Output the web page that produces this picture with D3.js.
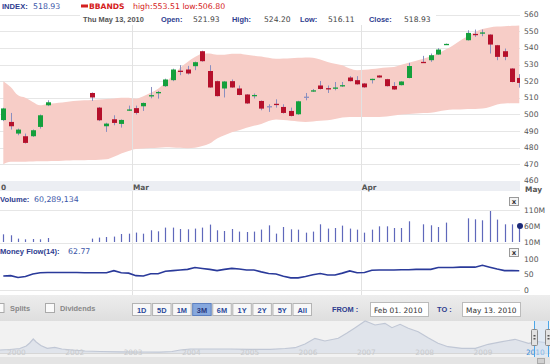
<!DOCTYPE html>
<html><head><meta charset="utf-8">
<script src="https://cdn.jsdelivr.net/npm/d3@7"></script>
<style>
html,body{margin:0;padding:0;background:#fff;overflow:hidden}
svg{display:block;font-family:"DejaVu Sans",Verdana,sans-serif}
.lb{font-family:"Liberation Sans",Arial,sans-serif;font-weight:bold}
</style></head><body>
<svg id="c" width="550" height="364"></svg>
<script>
// ---------- DATA ----------
const opens  = [496.6,495.5,488.5,486.9,486.9,492.5,505.5,null,null,null,null,null,512.9,504.1,492.9,497.1,494.3,502.7,503.8,504.9,511.2,512.7,517,520.6,526.3,527,529,538,526.1,520,515.6,520,515.6,512,511.3,508.1,505,506.4,504.5,502.1,500.1,510.7,514.1,517.4,515.8,515.8,517.2,522.2,520.6,518.6,521.1,523.4,521.2,517.1,517.6,521.9,null,531.6,532.6,536,542,null,null,544.6,548.4,549.1,548,541.6,538,527.6,521.93];
const highs  = [504,500.9,491.5,488.5,491,500,508.5,null,null,null,null,null,513.2,504.5,495,499.5,497,505.3,505.3,507.2,516.5,514.1,521.5,527.5,529.6,529.2,531.8,538.3,529.6,520.3,520.1,521,517.4,512.2,512.6,508.4,506.1,509.1,506.1,504.1,508.2,512.9,515.3,520.1,517.4,519.5,519.5,523,523,518.9,521.5,523.6,521.4,519.4,520,531,null,535.2,536.6,539.8,542.6,null,null,550.6,551,551,548.2,541.8,539.6,527.8,524.2];
const lows   = [496,490.9,487.5,482.5,486.5,491.5,505,null,null,null,null,null,508.1,496,489.5,493.5,492.1,502.1,500,502.1,509.7,509.5,516.5,520,523.6,524,526.6,531.7,516,510.8,510.2,516,511.5,506.3,509.6,502.5,501.5,504.1,500.5,498.8,499.8,508.5,513.5,515,512.9,514.5,516.5,519.8,517.9,516,518.6,522,516.8,514.8,517.4,521.7,null,531,531.6,535.8,541.8,null,null,544.4,546.6,547,536.6,532.6,532.6,519.3,516.11];
const closes = [503.6,492.9,490.9,482.9,490.5,499.5,507.3,null,null,null,null,null,510.2,496.5,494.5,494.9,496.7,503,500.9,506.9,511.6,513.5,521,527,525.7,524.6,531.4,532,516.2,511,519.8,516.2,511.7,506.6,511.7,503.5,505,505.8,500.9,499.1,507.9,510.7,514.5,515.3,515.4,516.2,517.6,520,518.1,516.3,521.4,522.2,517,515,519.8,529.1,null,531.2,535.6,539,542.4,null,null,549,548,549.3,542,534.6,534.6,519.5,518.93];
// volume, millions
const volumes = [34,31,20.6,18.4,19.4,18.4,22.5,null,null,null,null,null,20.6,23.8,25.6,26.9,35,36,39.4,36,46.6,43.4,55,55,50.6,49.7,51.9,55,64.4,46.6,44.4,50.6,42.5,41.3,42.5,48.8,62,36.2,56.9,49.7,48.6,39.2,42.5,65.3,51.9,53.8,61.2,51.9,48.6,39.2,48.6,59,59,53.8,53.8,74.7,null,65.3,62.2,56.9,70.6,null,null,84,80.9,77.8,106.9,80,65.3,65.3,60.289134];
const upperBand = [520,516.5,511.5,510,507.5,505.5,506.3,506.8,507.2,507.8,508.2,508.5,508.7,509,509.3,509.6,510,510,509.5,511,513,515.5,519,523.5,528,531.5,534.5,536.5,536.6,535.8,535.8,536.4,536.4,535.8,535.3,534.8,534,533.4,533.6,533.8,534,534.2,534,533,531.5,530.5,529.6,527.6,526.6,526.8,527.3,527.8,528.2,528.5,529.8,531,532.2,533.5,535,536.8,539,541.5,544.5,547,549.5,551.3,552.3,552.8,553,553.3,553.51];
const lowerBand = [470,471.5,471.5,471.6,471.7,471.8,471.9,472,472.2,472.3,472.4,472.5,472.6,472.8,473,474.5,476.5,478,479.3,479.5,479.8,480,480.3,480.2,480,479.7,480,481,482.5,485.5,487.5,489.3,490.5,492,493.2,494.3,496,497,496.6,496.2,495.8,495.5,495.8,496.2,496.5,497.3,498.2,498.5,498.5,498.5,498.5,498.5,498.8,499.3,500,500.3,500.5,500.8,501,501.8,502.5,503,503,503.2,503.3,503.5,504.5,506,506.5,506.7,506.8];
const moneyFlow = [46,47,41,44,52,56,57,57,57,57,57,56,56,56,56,63,56,55,47,46,53,53,61,63,65,67,73,70,67,63,67,70,68,65,65,59,54,52,45,40,40,44,50,54,49,49,55,62,56,57,64,65,65,65,66,66,67,67,67,73,73,73,74,74,74,80,74,68,63,63,62.77];
const priceTicks = [460,470,480,490,500,510,520,530,540,550,560];
const volumeTicks = [10,60,110];
const flowTicks = [0,50,100];
const monthLabels = ["0","Mar","Apr","May"];
const monthPos = [-0.45,17.46,48.5,70.65];
const rangeButtons = ["1D","5D","1M","3M","6M","1Y","2Y","5Y","All"];
const navYears  = [2000.88,2001.05,2001.22,2001.33,2001.39,2001.45,2001.50,2001.58,2001.69,2001.82,2001.94,2002.12,2002.34,2002.60,2002.94,2003.28,2003.62,2003.83,2003.97,2004.14,2004.48,2004.83,2005.17,2005.51,2005.77,2005.94,2006.11,2006.28,2006.45,2006.68,2006.83,2006.97,2007.14,2007.31,2007.48,2007.60,2007.74,2007.88,2008.05,2008.22,2008.39,2008.56,2008.80,2009.03,2009.25,2009.49,2009.71,2009.94,2010.11,2010.31];
const navValues = [150,175,225,350,500,700,550,375,235,285,200,150,100,75,60,50,40,75,150,200,200,200,185,185,225,265,450,735,600,735,1000,1265,1600,1400,1485,1265,1435,1235,1065,765,485,315,235,235,435,565,685,485,565,485];
const navLabels = ["2000","2002","2003","2004","2005","2006","2007","2008","2009","2010"];
const navLabelYears = [2001,2002,2003,2004,2005,2006,2007,2008,2009,2010];

// ---------- SETUP ----------
const svg = d3.select("#c");
const W = 550, PR = 520;
const navy = "#2e3d8f", blueVal = "#3a55a8";
const GREEN = "#14a03c", RED = "#b5102b", WICK = "#8a8fc0";
const idx = d3.range(opens.length);
const x = d3.scaleLinear().domain([-0.448, 70.1]).range([0, PR]);
const y = d3.scaleLinear().domain([460, 560]).range([181, 14.6]);
const yv = d3.scaleLinear().domain([10, 110]).range([242, 210]);
const yf = d3.scaleLinear().domain([0, 100]).range([290.4, 259]);

const defs = svg.append("defs");
defs.append("clipPath").attr("id","cpMain").append("rect").attr("x",0).attr("y",14).attr("width",PR).attr("height",167);
defs.append("clipPath").attr("id","cpAll").append("rect").attr("x",0).attr("y",0).attr("width",PR).attr("height",295);

// ---------- MAIN PRICE PANEL ----------
const grid = svg.append("g");
grid.selectAll("line.h").data(priceTicks).join("line")
  .attr("x1",0).attr("x2",PR).attr("y1",d=>Math.round(y(d))+0.5).attr("y2",d=>Math.round(y(d))+0.5)
  .attr("stroke","#e6e6e6");

const main = svg.append("g").attr("clip-path","url(#cpMain)");
const bandData = idx.map(i=>({i,u:upperBand[i],l:lowerBand[i]}));
main.append("path").datum(bandData)
  .attr("d", d3.area().curve(d3.curveMonotoneX).x(d=>x(d.i)).y0(d=>y(d.l)).y1(d=>y(d.u)))
  .attr("fill","#f7cdc7");

// vertical month lines (whole height)
svg.append("g").attr("clip-path","url(#cpAll)").selectAll("line").data(monthPos.slice(1,3)).join("line")
  .attr("x1",d=>Math.round(x(d))+0.5).attr("x2",d=>Math.round(x(d))+0.5)
  .attr("y1",14).attr("y2",295).attr("stroke","#e2e2e2");

const candles = idx.filter(i=>opens[i]!=null).map(i=>({i,o:opens[i],h:highs[i],l:lows[i],c:closes[i]}));
const cg = main.append("g");
cg.selectAll("line").data(candles).join("line")
  .attr("x1",d=>Math.round(x(d.i))+0.5).attr("x2",d=>Math.round(x(d.i))+0.5)
  .attr("y1",d=>y(d.h)).attr("y2",d=>y(d.l)).attr("stroke",WICK).attr("stroke-width",1);
cg.selectAll("rect").data(candles).join("rect")
  .attr("x",d=>Math.round(x(d.i))-2).attr("width",5)
  .attr("y",d=>y(Math.max(d.o,d.c)))
  .attr("height",d=>Math.max(1.3, Math.abs(y(d.o)-y(d.c))))
  .attr("fill",d=>d.c>d.o?GREEN:(d.c<d.o?RED:WICK));

// white box behind OHLC row
svg.append("rect").attr("x",80).attr("y",11).attr("width",356).attr("height",14).attr("fill","#fff");

// price axis labels
svg.append("g").selectAll("text").data(priceTicks).join("text")
  .attr("x",524).attr("y",d=>y(d)+(d===460?1.6:2.6)).attr("font-size",7.6).attr("fill","#555").text(d=>d);

// x axis band
svg.append("rect").attr("x",0).attr("y",181).attr("width",PR).attr("height",10).attr("fill","#eceef3");
svg.append("g").selectAll("text").data(monthLabels).join("text")
  .attr("x",(d,k)=>Math.max(0.5,x(monthPos[k])+1)).attr("y",(d,k)=>k===3?191.6:190)
  .attr("font-size",7.4).attr("font-weight","bold").attr("fill","#555").text(d=>d);

// header row 1
const h1 = svg.append("g");
h1.append("text").attr("class","lb").attr("x",2).attr("y",9).attr("font-size",7.6).attr("fill",navy).text("INDEX:");
h1.append("text").attr("x",33).attr("y",9).attr("font-size",7.8).attr("fill",blueVal).text(closes[70].toFixed(2));
h1.append("rect").attr("x",81).attr("y",4.5).attr("width",7).attr("height",3).attr("fill","#d42020");
h1.append("text").attr("x",89).attr("y",9).attr("font-size",7.6).attr("font-weight","bold").attr("fill","#d42020").text("BBANDS");
h1.append("text").attr("x",133).attr("y",9).attr("font-size",7.8).attr("fill","#d42020")
  .text("high:"+upperBand[70].toFixed(2)+" low:"+lowerBand[70].toFixed(2));
// header row 2
const row2 = [["Thu May 13, 2010",83,"#555",true],["Open:",161,navy,true],[opens[70].toFixed(2),193,"#444",false],
  ["High:",232,navy,true],[highs[70].toFixed(2),264,"#444",false],["Low:",300,navy,true],[lows[70].toFixed(2),328,"#444",false],
  ["Close:",369,navy,true],[closes[70].toFixed(2),404,"#444",false]];
svg.append("g").selectAll("text").data(row2).join("text").attr("x",d=>d[1]).attr("y",22)
  .attr("class",d=>d[3]?"lb":null).attr("font-size",d=>d[3]?7.4:7.6)
  .attr("fill",d=>d[2]).text(d=>d[0]);

// ---------- VOLUME PANEL ----------
svg.append("line").attr("x1",0).attr("x2",PR).attr("y1",210.5).attr("y2",210.5).attr("stroke","#e6e6e6");
svg.append("line").attr("x1",0).attr("x2",PR).attr("y1",243.5).attr("y2",243.5).attr("stroke","#e6e6e6");
const vol = idx.filter(i=>volumes[i]!=null).map(i=>({i,v:volumes[i]}));
svg.append("g").selectAll("line").data(vol).join("line")
  .attr("x1",d=>Math.round(x(d.i))+0.5).attr("x2",d=>Math.round(x(d.i))+0.5)
  .attr("y1",yv(10)).attr("y2",d=>yv(d.v)).attr("stroke","#5f68bb").attr("stroke-width",1.2);
svg.append("circle").attr("cx",PR).attr("cy",yv(volumes[70])).attr("r",3).attr("fill","#1c2a78");
svg.append("g").selectAll("text").data(volumeTicks).join("text")
  .attr("x",524).attr("y",d=>yv(d)+2.6).attr("font-size",7.6).attr("fill","#555").text(d=>d+"M");
svg.append("text").attr("class","lb").attr("x",0).attr("y",202).attr("font-size",7.6).attr("fill",navy).text("Volume:");
svg.append("text").attr("x",34).attr("y",202).attr("font-size",7.8).attr("fill",blueVal).text(d3.format(",")(Math.round(volumes[70]*1e6)));

// ---------- MONEY FLOW PANEL ----------
svg.append("line").attr("x1",0).attr("x2",PR).attr("y1",290.5).attr("y2",290.5).attr("stroke","#e6e6e6");
svg.append("path").datum(idx).attr("clip-path","url(#cpAll)")
  .attr("d",d3.line().x(i=>x(i)).y(i=>yf(moneyFlow[i])))
  .attr("fill","none").attr("stroke","#2a3a9a").attr("stroke-width",1.6);
svg.append("g").selectAll("text").data(flowTicks).join("text")
  .attr("x",524).attr("y",d=>yf(d)+2.6).attr("font-size",7.6).attr("fill","#555").text(d=>d);
svg.append("text").attr("class","lb").attr("x",0).attr("y",254).attr("font-size",7.6).attr("fill",navy).text("Money Flow(14):");
svg.append("text").attr("x",68).attr("y",254).attr("font-size",7.8).attr("fill",blueVal).text(moneyFlow[70]);

// close boxes
[197,248].forEach(yy=>{
  const g = svg.append("g");
  g.append("rect").attr("x",509.5).attr("y",yy+0.5).attr("width",9).attr("height",8).attr("fill","#f4f4f4").attr("stroke","#999");
  g.append("text").attr("x",514).attr("y",yy+7).attr("text-anchor","middle").attr("font-size",7).attr("font-weight","bold").attr("fill","#333").text("x");
});

// ---------- CONTROLS ----------
const gradC = defs.append("linearGradient").attr("id","gc").attr("x1",0).attr("x2",0).attr("y1",0).attr("y2",1);
gradC.append("stop").attr("offset",0).attr("stop-color","#ededed");
gradC.append("stop").attr("offset",1).attr("stop-color","#dedede");
svg.append("rect").attr("x",0).attr("y",295).attr("width",W).attr("height",26).attr("fill","url(#gc)");
svg.append("rect").attr("x",-5).attr("y",303.5).attr("width",9).attr("height",9).attr("fill","#fafafa").attr("stroke","#aaa");
svg.append("rect").attr("x",45.5).attr("y",303.5).attr("width",9).attr("height",9).attr("fill","#fafafa").attr("stroke","#aaa");
svg.append("text").attr("class","lb").attr("x",10).attr("y",311).attr("font-size",7.4).attr("fill","#888").text("Splits");
svg.append("text").attr("class","lb").attr("x",60).attr("y",311).attr("font-size",7.4).attr("fill","#888").text("Dividends");

const bx = d3.scaleBand().domain(rangeButtons).range([132,311]).paddingInner(0.08);
const bg = svg.append("g").selectAll("g").data(rangeButtons).join("g");
bg.append("rect").attr("x",d=>bx(d)+0.5).attr("y",303.5).attr("width",bx.bandwidth()).attr("height",12)
  .attr("fill",d=>d==="3M"?"#86a8de":"#f8f8f8").attr("stroke",d=>d==="3M"?"#5d80c0":"#b4b4b4");
bg.append("text").attr("class","lb").attr("x",d=>bx(d)+bx.bandwidth()/2+0.5).attr("y",312.5).attr("text-anchor","middle")
  .attr("font-size",7.4).attr("fill",d=>d==="3M"?"#2a3a80":"#2b4a9b").text(d=>d);

svg.append("text").attr("class","lb").attr("x",332).attr("y",312).attr("font-size",7.4).attr("fill",navy).text("FROM :");
svg.append("rect").attr("x",370.5).attr("y",302.5).attr("width",58).attr("height",14).attr("fill","#fff").attr("stroke","#bbb");
svg.append("text").attr("x",374).attr("y",312.5).attr("font-size",7.4).attr("fill","#333").text("Feb 01. 2010");
svg.append("text").attr("class","lb").attr("x",437).attr("y",312).attr("font-size",7.4).attr("fill",navy).text("TO :");
svg.append("rect").attr("x",462.5).attr("y",302.5).attr("width",58).attr("height",14).attr("fill","#fff").attr("stroke","#bbb");
svg.append("text").attr("x",466).attr("y",312.5).attr("font-size",7.4).attr("fill","#333").text("May 13. 2010");

// ---------- NAVIGATOR ----------
svg.append("rect").attr("x",0).attr("y",321).attr("width",W).attr("height",37).attr("fill","#f2f2f2");
const nx = d3.scaleLinear().domain([2000.88, 2010.31]).range([0, W]);
const ny = d3.scaleLinear().domain([0, 1750]).range([353, 318]);
svg.append("path").datum(navYears.map((t,k)=>[t,navValues[k]]))
  .attr("d",d3.area().x(d=>nx(d[0])).y0(353).y1(d=>ny(d[1])))
  .attr("fill","#e0e4eb");
svg.append("path").datum(navYears.map((t,k)=>[t,navValues[k]]))
  .attr("d",d3.line().x(d=>nx(d[0])).y(d=>ny(d[1])))
  .attr("fill","none").attr("stroke","#c0c7d5").attr("stroke-width",1.2);
svg.append("line").attr("x1",0).attr("x2",W).attr("y1",353.5).attr("y2",353.5).attr("stroke","#d6d6d6");
svg.append("g").selectAll("text").data(navLabels).join("text")
  .attr("x",(d,k)=>nx(navLabelYears[k])+ (k===9?-6:0)).attr("y",355)
  .attr("font-size",7.4).attr("fill",(d,k)=>k===9?"#3d8fd8":"#c8cacd").text(d=>d);
// selection
svg.append("rect").attr("x",534).attr("y",321).attr("width",14).attr("height",36).attr("fill","#cfe2f6").attr("opacity",0.5);
[534.5,548.5].forEach(xx=>svg.append("line").attr("x1",xx).attr("x2",xx).attr("y1",321).attr("y2",357).attr("stroke","#4aa6e8"));
[531.5,545.5].forEach(xx=>{
  svg.append("rect").attr("x",xx).attr("y",329.5).attr("width",6).attr("height",16).attr("rx",1).attr("fill","#e2e2e2").attr("stroke","#8a8a8a");
  svg.append("rect").attr("x",xx+2).attr("y",335).attr("width",2).attr("height",1.5).attr("fill","#555");
  svg.append("rect").attr("x",xx+2).attr("y",338).attr("width",2).attr("height",1.5).attr("fill","#555");
});
// scrollbar
svg.append("rect").attr("x",0).attr("y",357).attr("width",W).attr("height",7).attr("fill","#e4e4e4");
svg.append("rect").attr("x",537.5).attr("y",358.5).attr("width",7).attr("height",5).attr("fill","#d0d0d0").attr("stroke","#aaa");
</script></body></html>
